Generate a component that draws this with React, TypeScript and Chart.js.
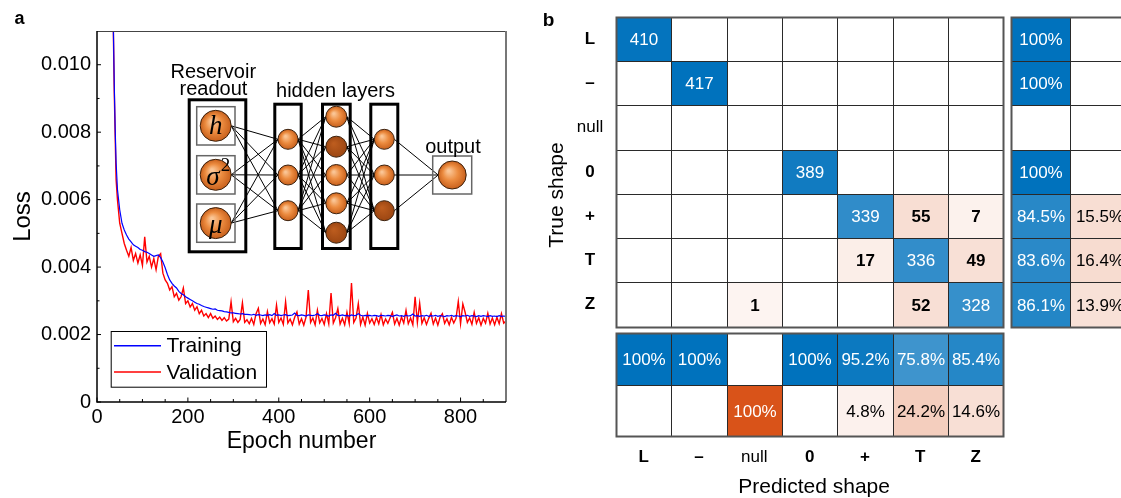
import React, { useEffect, useRef } from 'react';
import { Chart, registerables } from 'chart.js';

Chart.register(...registerables);

const FONT = "'Liberation Sans', Arial, Helvetica, sans-serif";
const SERIF = "'Liberation Serif', 'DejaVu Serif', serif";

// ---------------- Panel a data ----------------
const epochs = [
  33, 36, 38, 40, 42, 45,
  50, 55, 60, 65, 70, 75, 80, 85, 90, 95,
  100, 105, 110, 115, 120, 125, 130, 135, 140, 145,
  150, 155, 160, 165, 170, 175, 180, 185, 190, 195,
  200, 205, 210, 215, 220, 225, 230, 235, 240, 245,
  250, 255, 260, 265, 270, 275, 280, 285, 290, 295,
  300, 305, 310, 315, 320, 325, 330,
  335, 340, 345, 350, 355, 360, 365, 370, 375, 380,
  385, 390, 395, 400, 405, 410, 415, 420, 425, 430,
  435, 440, 445, 450, 455, 460, 465, 470, 475, 480,
  485, 490, 495, 500, 505, 510, 515, 520, 525, 530,
  535, 540, 545, 550, 555, 560, 565, 570, 575, 580,
  585, 590, 595, 600, 605, 610, 615, 620, 625, 630,
  635, 640, 645, 650, 655, 660, 665, 670, 675, 680,
  685, 690, 695, 700, 705, 710, 715, 720, 725, 730,
  735, 740, 745, 750, 755, 760, 765, 770, 775, 780,
  785, 790, 795, 800, 805, 810, 815, 820, 825, 830,
  835, 840, 845, 850, 855, 860, 865, 870, 875, 880,
  885, 890, 895, 900,
];

const trainingLoss = [
  0.0130, 0.0111, 0.0094, 0.0081, 0.0071, 0.0063,
  0.00570, 0.00530, 0.00510, 0.00495, 0.00483, 0.00475, 0.00466, 0.00462, 0.00458, 0.00452,
  0.00450, 0.00446, 0.00444, 0.00440, 0.00436, 0.00432, 0.00434, 0.00436, 0.00428, 0.00415,
  0.00398, 0.00378, 0.00362, 0.00352, 0.00344, 0.00338, 0.00328, 0.00322, 0.00318, 0.00312,
  0.00308, 0.00304, 0.00300, 0.00296, 0.00292, 0.00290, 0.00286, 0.00283, 0.00281, 0.00279,
  0.00277, 0.00275, 0.00276, 0.00272, 0.00271, 0.00270, 0.00268, 0.00267, 0.00266, 0.00264,
  0.00264, 0.00263, 0.00262, 0.00261, 0.00262, 0.00260, 0.00260,
  0.00259, 0.00258, 0.00260, 0.00257, 0.00259, 0.00258, 0.00256, 0.00258, 0.00257, 0.00259,
  0.00256, 0.00262, 0.00257, 0.00258, 0.00256, 0.00258, 0.00259, 0.00256, 0.00257, 0.00258,
  0.00264, 0.00257, 0.00256, 0.00258, 0.00257, 0.00255, 0.00258, 0.00257, 0.00256, 0.00258,
  0.00262, 0.00257, 0.00256, 0.00258, 0.00257, 0.00255, 0.00258, 0.00257, 0.00263, 0.00257,
  0.00256, 0.00258, 0.00256, 0.00257, 0.00255, 0.00258, 0.00256, 0.00257, 0.00262, 0.00257,
  0.00255, 0.00257, 0.00256, 0.00257, 0.00255, 0.00257, 0.00256, 0.00254, 0.00257, 0.00256,
  0.00255, 0.00257, 0.00256, 0.00254, 0.00256, 0.00258, 0.00255, 0.00256, 0.00254, 0.00257,
  0.00255, 0.00256, 0.00261, 0.00255, 0.00256, 0.00254, 0.00256, 0.00255, 0.00257, 0.00254,
  0.00256, 0.00255, 0.00257, 0.00254, 0.00256, 0.00255, 0.00253, 0.00256, 0.00255, 0.00257,
  0.00254, 0.00256, 0.00255, 0.00253, 0.00256, 0.00255, 0.00257, 0.00254, 0.00256, 0.00255,
  0.00253, 0.00256, 0.00254, 0.00256, 0.00255, 0.00253, 0.00256, 0.00254, 0.00255, 0.00253,
  0.00256, 0.00254, 0.00255, 0.00254,
];

const validationLoss = [
  0.0130, 0.0110, 0.0092, 0.0079, 0.0066, 0.0060,
  0.00530, 0.00500, 0.00470, 0.00450, 0.00432, 0.00458, 0.00420, 0.00440, 0.00412, 0.00436,
  0.00405, 0.00490, 0.00415, 0.00432, 0.00400, 0.00425, 0.00392, 0.00432, 0.00440, 0.00382,
  0.00362, 0.00352, 0.00332, 0.00342, 0.00312, 0.00322, 0.00302, 0.00312, 0.00338, 0.00292,
  0.00300, 0.00282, 0.00292, 0.00272, 0.00282, 0.00262, 0.00272, 0.00255, 0.00262, 0.00250,
  0.00262, 0.00248, 0.00255, 0.00245, 0.00252, 0.00242, 0.00250, 0.00240, 0.00246, 0.00297,
  0.00238, 0.00248, 0.00236, 0.00245, 0.00294, 0.00236, 0.00244,
  0.00232, 0.00248, 0.00230, 0.00262, 0.00278, 0.00233, 0.00246, 0.00229, 0.00268, 0.00235,
  0.00247, 0.00231, 0.00287, 0.00236, 0.00249, 0.00230, 0.00297, 0.00234, 0.00246, 0.00229,
  0.00251, 0.00267, 0.00231, 0.00247, 0.00228, 0.00252, 0.00332, 0.00236, 0.00249, 0.00229,
  0.00272, 0.00235, 0.00248, 0.00230, 0.00262, 0.00232, 0.00323, 0.00234, 0.00250, 0.00277,
  0.00231, 0.00248, 0.00229, 0.00266, 0.00233, 0.00353, 0.00236, 0.00249, 0.00292, 0.00230,
  0.00252, 0.00228, 0.00263, 0.00234, 0.00247, 0.00230, 0.00251, 0.00232, 0.00259, 0.00229,
  0.00246, 0.00233, 0.00250, 0.00266, 0.00231, 0.00248, 0.00228, 0.00252, 0.00234, 0.00272,
  0.00232, 0.00249, 0.00229, 0.00312, 0.00236, 0.00293, 0.00233, 0.00250, 0.00230, 0.00248,
  0.00263, 0.00231, 0.00249, 0.00228, 0.00252, 0.00262, 0.00233, 0.00247, 0.00229, 0.00251,
  0.00234, 0.00248, 0.00298, 0.00232, 0.00291, 0.00266, 0.00236, 0.00249, 0.00230, 0.00266,
  0.00233, 0.00250, 0.00228, 0.00248, 0.00234, 0.00263, 0.00231, 0.00249, 0.00229, 0.00251,
  0.00232, 0.00262, 0.00234, 0.00240,
];

const seriesNames = ['Training', 'Validation'];

// ---------------- Panel b data ----------------
const shapeLabels = ['L', '–', 'null', '0', '+', 'T', 'Z'];
const confusionCounts = [
  [410, 0, 0, 0, 0, 0, 0],
  [0, 417, 0, 0, 0, 0, 0],
  [0, 0, 0, 0, 0, 0, 0],
  [0, 0, 0, 389, 0, 0, 0],
  [0, 0, 0, 0, 339, 55, 7],
  [0, 0, 0, 0, 17, 336, 49],
  [0, 0, 1, 0, 0, 52, 328],
];
const rowCorrectPct = [100, 100, null, 100, 84.5, 83.6, 86.1];
const rowWrongPct = [0, 0, null, 0, 15.5, 16.4, 13.9];
const colCorrectPct = [100, 100, 0, 100, 95.2, 75.8, 85.4];
const colWrongPct = [0, 0, 100, 0, 4.8, 24.2, 14.6];

// ---------------- styles / layout ----------------
const BLUE = [0, 114, 189];
const ORANGE = [217, 83, 25];
function mix(c: number[], t: number) {
  const k = Math.max(0, Math.min(1, t));
  const r = Math.round(255 - (255 - c[0]) * k);
  const g = Math.round(255 - (255 - c[1]) * k);
  const b = Math.round(255 - (255 - c[2]) * k);
  return `rgb(${r},${g},${b})`;
}
const SUM_X = [7.14, 8.21, 9.28];
const BOT_Y = [7.15, 8.31, 9.47];

function pctText(p: number) {
  return p === 100 ? '100%' : p.toFixed(1) + '%';
}

function ball(ctx: CanvasRenderingContext2D, cx: number, cy: number, r: number, dark: boolean) {
  const g = ctx.createRadialGradient(cx - r * 0.25, cy - r * 0.3, r * 0.08, cx, cy, r);
  if (dark) {
    g.addColorStop(0, '#BC5C1E');
    g.addColorStop(1, '#9C4612');
  } else {
    g.addColorStop(0, '#FAC595');
    g.addColorStop(0.5, '#EC8C40');
    g.addColorStop(1, '#C8601C');
  }
  ctx.beginPath();
  ctx.arc(cx, cy, r, 0, Math.PI * 2);
  ctx.fillStyle = g;
  ctx.fill();
  ctx.lineWidth = 1;
  ctx.strokeStyle = '#3a200c';
  ctx.stroke();
}

function drawNetwork(ctx: CanvasRenderingContext2D) {
  const layers = [
    { x: 215.7, r: 15.5, ys: [125.8, 174.8, 223.1], dark: [false, false, false] },
    { x: 288, r: 10, ys: [139.3, 175, 210.7], dark: [false, false, false] },
    { x: 336.3, r: 10.5, ys: [116.7, 146.7, 175, 203.3, 232.7], dark: [false, true, false, false, true] },
    { x: 384.3, r: 10, ys: [139.3, 175, 210.7], dark: [false, false, true] },
    { x: 452.2, r: 14, ys: [175], dark: [false] },
  ];
  ctx.strokeStyle = '#000';
  ctx.lineWidth = 1;
  for (let i = 0; i < layers.length - 1; i++) {
    const a = layers[i], b = layers[i + 1];
    for (const ya of a.ys) for (const yb of b.ys) {
      ctx.beginPath();
      ctx.moveTo(a.x + a.r, ya);
      ctx.lineTo(b.x - b.r, yb);
      ctx.stroke();
    }
  }
  // boxes
  ctx.strokeStyle = '#000';
  ctx.lineWidth = 3;
  ctx.strokeRect(189.2, 99.8, 56.6, 152);
  ctx.strokeRect(274.8, 104.2, 26.4, 144.3);
  ctx.strokeRect(322.5, 104.2, 27.7, 144.3);
  ctx.strokeRect(370.8, 104.2, 27, 144.3);
  ctx.strokeStyle = '#666';
  ctx.lineWidth = 1.5;
  for (const y of [106.7, 155.7, 204]) ctx.strokeRect(196.7, y, 38.3, 38.3);
  ctx.strokeRect(432.7, 156, 39, 38);
  // balls
  layers.forEach((l) => l.ys.forEach((y, j) => ball(ctx, l.x, y, l.r, l.dark[j])));
  // symbols
  ctx.fillStyle = '#000';
  ctx.textAlign = 'center';
  ctx.textBaseline = 'middle';
  ctx.font = `italic 27px ${SERIF}`;
  ctx.fillText('h', 215.7, 126.5);
  ctx.fillText('σ', 213, 178);
  ctx.fillText('μ', 215.7, 226);
  ctx.font = `19px ${SERIF}`;
  ctx.fillText('2', 225.5, 166);
  // labels
  ctx.font = `20px ${FONT}`;
  ctx.fillText('Reservoir', 213.3, 72);
  ctx.fillText('readout', 213.5, 89.5);
  ctx.fillText('hidden layers', 335.5, 91);
  ctx.fillText('output', 453, 147);
}

const panelAPlugin = {
  id: 'panelA',
  afterDraw(chart: any) {
    const { ctx, chartArea: ca } = chart;
    const xs = chart.scales.x;
    const ys = chart.scales.y;
    ctx.save();
    // frame
    ctx.strokeStyle = '#444';
    ctx.lineWidth = 1;
    ctx.beginPath();
    ctx.moveTo(ca.left, ca.top + 0.5);
    ctx.lineTo(ca.right, ca.top + 0.5);
    ctx.stroke();
    ctx.strokeStyle = '#777';
    ctx.lineWidth = 2;
    ctx.beginPath();
    ctx.moveTo(ca.right, ca.top);
    ctx.lineTo(ca.right, ca.bottom);
    ctx.stroke();
    ctx.strokeStyle = '#000';
    ctx.lineWidth = 1.5;
    ctx.beginPath();
    ctx.moveTo(ca.left, ca.top);
    ctx.lineTo(ca.left, ca.bottom);
    ctx.lineTo(ca.right, ca.bottom);
    ctx.stroke();
    // inward ticks
    ctx.lineWidth = 1;
    const xMajor = xs.ticks.map((t: any) => t.value);
    for (let i = 0; i < xMajor.length; i++) {
      const v = xMajor[i];
      const p = xs.getPixelForValue(v);
      ctx.beginPath(); ctx.moveTo(p, ca.bottom); ctx.lineTo(p, ca.bottom - 4.5); ctx.stroke();
      for (const m of [50, 100, 150]) {
        if (v + m >= xs.max) continue;
        const pm = xs.getPixelForValue(v + m);
        ctx.beginPath(); ctx.moveTo(pm, ca.bottom); ctx.lineTo(pm, ca.bottom - 3); ctx.stroke();
      }
    }
    const yMajor = ys.ticks.map((t: any) => t.value);
    for (const v of yMajor) {
      const p = ys.getPixelForValue(v);
      ctx.beginPath(); ctx.moveTo(ca.left, p); ctx.lineTo(ca.left + 4, p); ctx.stroke();
      const half = v + 0.001;
      if (half < ys.max) {
        const pm = ys.getPixelForValue(half);
        ctx.beginPath(); ctx.moveTo(ca.left, pm); ctx.lineTo(ca.left + 2.5, pm); ctx.stroke();
      }
    }
    // inset network
    drawNetwork(ctx);
    // legend
    const lx = 110.7, ly = 331, lw = 155.3, lh = 55.7;
    ctx.fillStyle = '#fff';
    ctx.fillRect(lx, ly, lw, lh);
    ctx.strokeStyle = '#000';
    ctx.lineWidth = 1;
    ctx.strokeRect(lx + 0.5, ly + 0.5, lw, lh);
    chart.data.datasets.forEach((ds: any, i: number) => {
      const yy = ly + 14.7 + i * 26.3;
      ctx.strokeStyle = ds.borderColor;
      ctx.lineWidth = 1.4;
      ctx.beginPath(); ctx.moveTo(114, yy); ctx.lineTo(161, yy); ctx.stroke();
      ctx.fillStyle = '#000';
      ctx.font = `21px ${FONT}`;
      ctx.textAlign = 'left';
      ctx.textBaseline = 'middle';
      ctx.fillText(ds.label, 166.5, yy + 1);
    });
    // panel label
    ctx.fillStyle = '#000';
    ctx.font = `bold 18px ${FONT}`;
    ctx.textAlign = 'left';
    ctx.textBaseline = 'alphabetic';
    ctx.fillText('a', 14.5, 23.5);
    ctx.restore();
  },
};

const matrixPlugin = {
  id: 'matrix',
  afterDraw(chart: any) {
    const { ctx } = chart;
    const xs = chart.scales.x;
    const ys = chart.scales.y;
    const X = (v: number) => Math.round(xs.getPixelForValue(v)) + 0.5;
    const Y = (v: number) => Math.round(ys.getPixelForValue(v)) + 0.5;
    ctx.save();
    ctx.textAlign = 'center';
    ctx.textBaseline = 'middle';
    const cell = (x0: number, x1: number, y0: number, y1: number, fill: string, text: string, color: string, bold: boolean) => {
      const a = X(x0), b = X(x1), c = Y(y0), d = Y(y1);
      ctx.fillStyle = fill;
      ctx.fillRect(a, c, b - a, d - c);
      ctx.strokeStyle = '#2a2a2a';
      ctx.lineWidth = 1;
      ctx.strokeRect(a, c, b - a, d - c);
      if (text) {
        ctx.fillStyle = color;
        ctx.font = `${bold ? 'bold ' : ''}17px ${FONT}`;
        ctx.fillText(text, (a + b) / 2, (c + d) / 2 + 1);
      }
    };
    // main matrix
    for (let r = 0; r < 7; r++) {
      for (let c = 0; c < 7; c++) {
        const v = confusionCounts[r][c];
        let fill = '#fff';
        if (v > 0) fill = r === c ? mix(BLUE, v / 417) : mix(ORANGE, 0.06 + v / 417);
        cell(c, c + 1, r, r + 1, fill, v > 0 ? String(v) : '', r === c ? '#fff' : '#000', r !== c);
      }
    }
    // row summary
    for (let r = 0; r < 7; r++) {
      const pc = rowCorrectPct[r];
      const pw = rowWrongPct[r];
      cell(SUM_X[0], SUM_X[1], r, r + 1, pc ? mix(BLUE, pc / 100) : '#fff', pc ? pctText(pc) : '', '#fff', false);
      const tw = pw ? 0.03 + pw * 0.0105 : 0;
      cell(SUM_X[1], SUM_X[2], r, r + 1, pw ? mix(ORANGE, tw) : '#fff', pw ? pctText(pw) : '', tw > 0.6 ? '#fff' : '#000', false);
    }
    // column summary
    for (let c = 0; c < 7; c++) {
      const pc = colCorrectPct[c];
      const pw = colWrongPct[c];
      cell(c, c + 1, BOT_Y[0], BOT_Y[1], pc ? mix(BLUE, pc / 100) : '#fff', pc ? pctText(pc) : '', '#fff', false);
      const tw = pw ? 0.03 + pw * 0.0105 : 0;
      cell(c, c + 1, BOT_Y[1], BOT_Y[2], pw ? mix(ORANGE, tw) : '#fff', pw ? pctText(pw) : '', tw > 0.6 ? '#fff' : '#000', false);
    }
    // outer borders
    ctx.strokeStyle = '#555';
    ctx.lineWidth = 2;
    ctx.strokeRect(X(0), Y(0), X(7) - X(0), Y(7) - Y(0));
    ctx.strokeRect(X(SUM_X[0]), Y(0), X(SUM_X[2]) - X(SUM_X[0]), Y(7) - Y(0));
    ctx.strokeRect(X(0), Y(BOT_Y[0]), X(7) - X(0), Y(BOT_Y[2]) - Y(BOT_Y[0]));
    // tick labels
    ctx.fillStyle = '#000';
    shapeLabels.forEach((lab, i) => {
      ctx.font = lab === 'null' ? `17px ${FONT}` : `bold 17px ${FONT}`;
      ctx.fillText(lab, 60, ys.getPixelForValue(i + 0.5));
      ctx.fillText(lab, xs.getPixelForValue(i + 0.5), 457);
    });
    // axis titles
    ctx.font = `21px ${FONT}`;
    ctx.fillText('Predicted shape', xs.getPixelForValue(3.58), 487);
    ctx.save();
    ctx.translate(27, 195);
    ctx.rotate(-Math.PI / 2);
    ctx.fillText('True shape', 0, 0);
    ctx.restore();
    // panel label
    ctx.font = `bold 19px ${FONT}`;
    ctx.textAlign = 'left';
    ctx.textBaseline = 'alphabetic';
    ctx.fillText('b', 12.7, 26);
    ctx.restore();
  },
};

export default function App() {
  const refA = useRef<HTMLCanvasElement>(null);
  const refB = useRef<HTMLCanvasElement>(null);

  useEffect(() => {
    Chart.defaults.font.family = FONT;
    Chart.defaults.color = '#000';
    const chartA = new Chart(refA.current as HTMLCanvasElement, {
      type: 'line',
      data: {
        datasets: [
          {
            label: seriesNames[0],
            data: epochs.map((e, i) => ({ x: e, y: trainingLoss[i] })),
            borderColor: '#0000FF',
            borderWidth: 1.2,
            pointRadius: 0,
            tension: 0,
          },
          {
            label: seriesNames[1],
            data: epochs.map((e, i) => ({ x: e, y: validationLoss[i] })),
            borderColor: '#FF0000',
            borderWidth: 1.4,
            pointRadius: 0,
            tension: 0,
          },
        ],
      },
      options: {
        animation: false,
        responsive: false,
        layout: { padding: { left: 0, top: 31, right: 24, bottom: 0 } },
        plugins: { legend: { display: false }, tooltip: { enabled: false } },
        scales: {
          x: {
            type: 'linear',
            min: 0,
            max: 900,
            grid: { display: false, drawTicks: false },
            border: { display: false },
            ticks: { stepSize: 200, includeBounds: false, maxRotation: 0, padding: 3, font: { size: 20 }, color: '#000' },
            title: { display: true, text: 'Epoch number', font: { size: 23 }, color: '#000', padding: { top: 0, bottom: 43 } },
            afterFit: (s: any) => { s.height = 96; },
          },
          y: {
            type: 'linear',
            min: 0,
            max: 0.011,
            grid: { display: false, drawTicks: false },
            border: { display: false },
            ticks: {
              stepSize: 0.002,
              includeBounds: false,
              padding: 6,
              font: { size: 20 },
              color: '#000',
              callback: (v: any) => (Number(v) === 0 ? '0' : Number(v).toFixed(3)),
            },
            title: { display: true, text: 'Loss', font: { size: 24 }, color: '#000', padding: { top: 9, bottom: 0 } },
            afterFit: (s: any) => { s.width = 97; },
          },
        },
      } as any,
      plugins: [panelAPlugin],
    });

    const chartB = new Chart(refB.current as HTMLCanvasElement, {
      type: 'scatter',
      data: { datasets: [] },
      options: {
        animation: false,
        responsive: false,
        layout: { padding: { left: 86, top: 17, right: 0, bottom: 62 } },
        plugins: { legend: { display: false }, tooltip: { enabled: false } },
        scales: {
          x: { type: 'linear', min: 0, max: 9.127, display: false },
          y: { type: 'linear', min: 0, max: 9.47, reverse: true, display: false },
        },
      } as any,
      plugins: [matrixPlugin],
    });

    return () => {
      chartA.destroy();
      chartB.destroy();
    };
  }, []);

  return (
    <div style={{ position: 'fixed', left: 0, top: 0, width: 1121, height: 498, background: '#fff', overflow: 'hidden' }}>
      <div style={{ position: 'absolute', left: 0, top: 0, width: 530, height: 498 }}>
        <canvas ref={refA} width={530} height={498} style={{ width: 530, height: 498, display: 'block' }} />
      </div>
      <div style={{ position: 'absolute', left: 530, top: 0, width: 591, height: 498 }}>
        <canvas ref={refB} width={591} height={498} style={{ width: 591, height: 498, display: 'block' }} />
      </div>
    </div>
  );
}
